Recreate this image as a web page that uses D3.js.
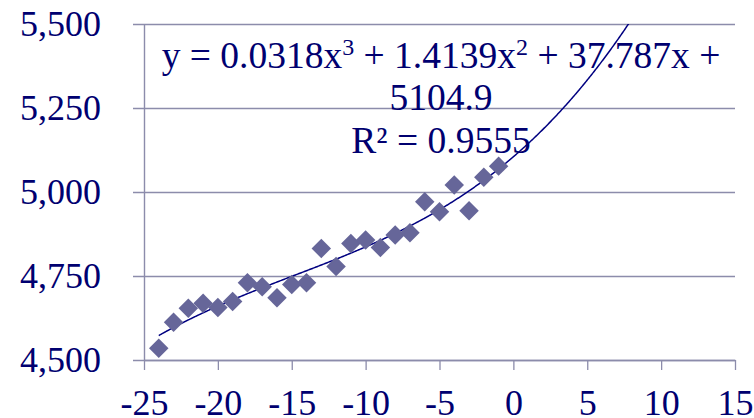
<!DOCTYPE html>
<html>
<head>
<meta charset="utf-8">
<script src="https://cdn.jsdelivr.net/npm/d3@7"></script>
<style>
  html, body { margin: 0; padding: 0; background: #fff; }
  svg { display: block; }
  text { font-family: "Liberation Serif", "Times New Roman", serif; fill: #000070; }
</style>
</head>
<body>
<svg id="chart" width="754" height="418"></svg>
<script>
// Observations: x offset and measured value
const xValues = [-24, -23, -22, -21, -20, -19, -18, -17, -16, -15, -14, -13,
                 -12, -11, -10, -9, -8, -7, -6, -5, -4, -3, -2, -1];
const yValues = [4535, 4612, 4654, 4669, 4656, 4674, 4730, 4718, 4685, 4725, 4730, 4832,
                 4778, 4847, 4857, 4835, 4872, 4879, 4971, 4941, 5021, 4944, 5044, 5077];

// Cubic trend coefficients (highest power first) and fit quality
const trendCoefs = [0.0318, 1.4139, 37.787, 5104.9];
const rSquared = 0.9555;

// Axis ticks
const xTicks = [-25, -20, -15, -10, -5, 0, 5, 10, 15];
const yTicks = [4500, 4750, 5000, 5250, 5500];

const svg = d3.select("#chart");
const plotLeft = 144, plotRight = 735, plotTop = 24, plotBottom = 360;

const x = d3.scaleLinear().domain([-25, 15]).range([plotLeft, plotRight]);
const y = d3.scaleLinear().domain([4500, 5500]).range([plotBottom, plotTop]);

const gridColor = "#8c8cab";
const fmt = d3.format(",");

// Horizontal gridlines and y axis
const yAxis = d3.axisLeft(y).tickValues(yTicks).tickFormat(fmt)
  .tickSizeInner(-(plotRight - plotLeft)).tickSizeOuter(0).tickPadding(0);
const gy = svg.append("g").attr("transform", `translate(${plotLeft},0)`).call(yAxis);
gy.select(".domain").attr("stroke", gridColor).attr("stroke-width", 1.4);
gy.selectAll(".tick line").attr("stroke", gridColor).attr("stroke-width", 1.3)
  .attr("x1", -11);
gy.selectAll(".tick text")
  .attr("x", -43).attr("dy", "0.33em")
  .style("font-size", "36px").attr("fill", "#000070");

// x axis at the bottom
const xAxis = d3.axisBottom(x).tickValues(xTicks).tickFormat(d => d < 0 ? "-" + Math.abs(d) : d)
  .tickSizeInner(10).tickSizeOuter(0).tickPadding(19);
const gx = svg.append("g").attr("transform", `translate(0,${plotBottom})`).call(xAxis);
gx.select(".domain").attr("stroke", gridColor).attr("stroke-width", 1.4);
gx.selectAll(".tick line").attr("stroke", gridColor).attr("stroke-width", 1.3);
gx.selectAll(".tick text").style("font-size", "36px").attr("fill", "#000070")
  .attr("dy", "0.71em");

// Clip for the trend line
svg.append("clipPath").attr("id", "plotClip")
  .append("rect").attr("x", plotLeft).attr("y", plotTop)
  .attr("width", plotRight - plotLeft).attr("height", plotBottom - plotTop);

const trend = xv => trendCoefs.reduce((acc, c) => acc * xv + c, 0);
const trendX = d3.range(-24, 15.001, 0.05);
svg.append("path")
  .datum(trendX)
  .attr("clip-path", "url(#plotClip)")
  .attr("fill", "none")
  .attr("stroke", "#000080")
  .attr("stroke-width", 1.5)
  .attr("d", d3.line().x(d => x(d)).y(d => y(trend(d))));

// Diamond markers
const diamond = d3.symbol().type(d3.symbolSquare).size(190);
svg.append("g").selectAll("path")
  .data(xValues.map((xv, i) => [xv, yValues[i]]))
  .join("path")
  .attr("d", diamond)
  .attr("transform", d => `translate(${x(d[0])},${y(d[1])}) rotate(45)`)
  .attr("fill", "#666699");

// Trend equation label
const eq = svg.append("text").attr("text-anchor", "middle").style("font-size", "37.5px");
const l1 = eq.append("tspan").attr("x", 441).attr("y", 68);
l1.append("tspan").text(`y = ${trendCoefs[0]}x`);
l1.append("tspan").text("3").style("font-size", "24px").attr("dy", -13);
l1.append("tspan").text(` + ${trendCoefs[1]}x`).attr("dy", 13);
l1.append("tspan").text("2").style("font-size", "24px").attr("dy", -13);
l1.append("tspan").text(` + ${trendCoefs[2]}x +`).attr("dy", 13);
eq.append("tspan").attr("x", 441).attr("y", 110).text(trendCoefs[3]);
eq.append("tspan").attr("x", 441).attr("y", 153).text(`R² = ${rSquared}`);
</script>
</body>
</html>
